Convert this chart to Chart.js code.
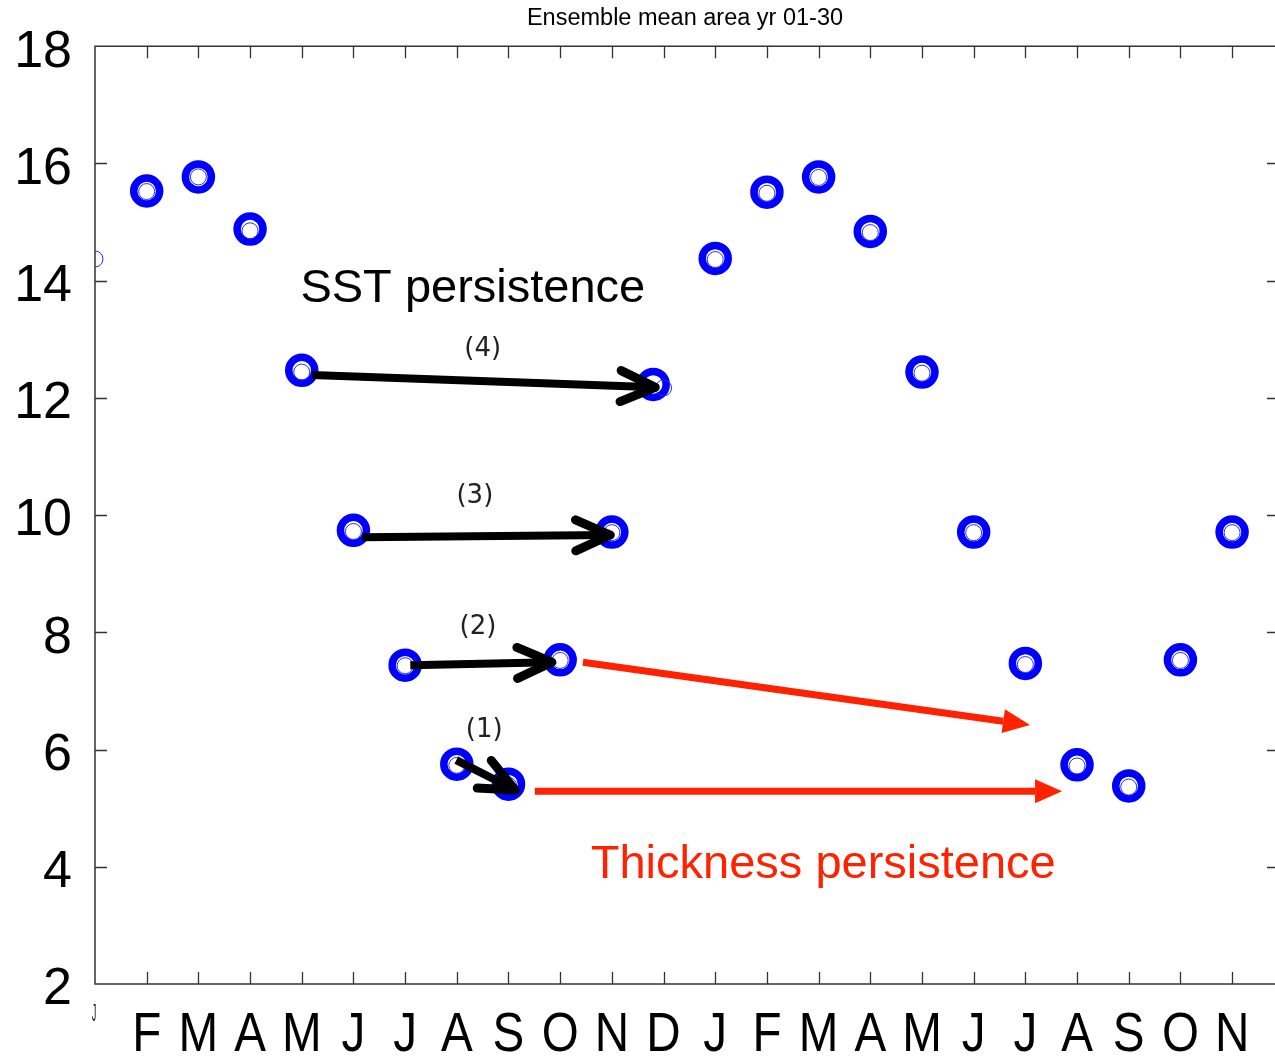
<!DOCTYPE html>
<html>
<head>
<meta charset="utf-8">
<title>Ensemble mean area yr 01-30</title>
<script src="https://cdn.jsdelivr.net/npm/chart.js@4"></script>
<style>
  html, body { margin: 0; padding: 0; background: #fff; }
  #wrap { width: 1275px; height: 1057px; }
</style>
</head>
<body>
<div id="wrap"><canvas id="chart"></canvas></div>
<script>
// ---------------- data ----------------
const months = ['J','F','M','A','M','J','J','A','S','O','N','D','J','F','M','A','M','J','J','A','S','O','N'];

// monthly ensemble mean area (thin circles), one per month
const areaMean = [14.37, 15.52, 15.77, 14.85, 12.44, 9.72, 7.43, 5.73, 5.39, 7.52, 9.70, 12.17,
                  14.36, 15.49, 15.76, 14.82, 12.42, 9.70, 7.45, 5.72, 5.36, 7.52, 9.70];

// highlighted months (thick rings)
const ringMonth = [1, 2, 3, 4, 5, 6, 7, 8, 9, 10, 10.8, 12, 13, 14, 15, 16, 17, 18, 19, 20, 21, 22];
const ringArea  = [15.53, 15.77, 14.88, 12.47, 9.74, 7.44, 5.75, 5.41, 7.53, 9.71, 12.23,
                   14.38, 15.51, 15.77, 14.84, 12.44, 9.71, 7.47, 5.74, 5.38, 7.53, 9.71];

const yTicks = [2, 4, 6, 8, 10, 12, 14, 16, 18];

// persistence arrows, in (month index, area) units
const sstArrows = [
  { from: [4.20, 12.39], to: [10.84, 12.18], tag: '(4)', at: [7.50, 12.83] },
  { from: [5.17,  9.62], to: [ 9.97,  9.66], tag: '(3)', at: [7.35, 10.32] },
  { from: [6.10,  7.44], to: [ 8.84,  7.49], tag: '(2)', at: [7.41,  8.09] },
  { from: [6.99,  5.82], to: [ 8.13,  5.31], tag: '(1)', at: [7.53,  6.33] },
];
const thickArrows = [
  { from: [9.44, 7.49], to: [18.09, 6.42] },
  { from: [8.51, 5.29], to: [18.71, 5.29] },
];
const notes = [
  { text: 'SST persistence',       at: [7.31, 13.85], color: '#000' },
  { text: 'Thickness persistence', at: [14.09, 4.03], color: '#ff2200' },
];

const BLUE = '#0000ff';
const RED = '#ff2200';
const SANS = '"Liberation Sans", Arial, Helvetica, sans-serif';

// ---------------- drawing helpers ----------------
function chevron(ctx, x0, y0, x1, y1) {
  const ang = Math.atan2(y1 - y0, x1 - x0);
  ctx.lineWidth = 8;
  ctx.lineCap = 'butt';
  ctx.beginPath(); ctx.moveTo(x0, y0); ctx.lineTo(x1, y1); ctx.stroke();
  ctx.lineWidth = 9;
  ctx.lineCap = 'round';
  ctx.beginPath();
  for (const s of [-1, 1]) {
    const a = ang + Math.PI + s * 0.42;
    ctx.moveTo(x1, y1);
    ctx.lineTo(x1 + 38 * Math.cos(a), y1 + 38 * Math.sin(a));
  }
  ctx.stroke();
}

function filledArrow(ctx, x0, y0, x1, y1) {
  const ang = Math.atan2(y1 - y0, x1 - x0);
  const len = 27, half = 12;
  const bx = x1 - len * Math.cos(ang), by = y1 - len * Math.sin(ang);
  ctx.lineWidth = 7;
  ctx.lineCap = 'butt';
  ctx.beginPath(); ctx.moveTo(x0, y0); ctx.lineTo(bx, by); ctx.stroke();
  ctx.beginPath();
  ctx.moveTo(x1, y1);
  ctx.lineTo(bx + half * Math.sin(ang), by - half * Math.cos(ang));
  ctx.lineTo(bx - half * Math.sin(ang), by + half * Math.cos(ang));
  ctx.closePath();
  ctx.fill();
}

// frame with inward ticks, month letters, arrows and notes
const overlay = {
  id: 'overlay',
  afterDatasetsDraw(chart) {
    const { ctx, chartArea: a, scales: { x, y } } = chart;
    ctx.save();

    // axes frame (right edge falls off the canvas)
    ctx.strokeStyle = '#333';
    ctx.lineWidth = 1.5;
    ctx.beginPath();
    ctx.moveTo(a.right, a.top); ctx.lineTo(a.left, a.top);
    ctx.lineTo(a.left, a.bottom); ctx.lineTo(a.right, a.bottom);
    ctx.stroke();

    ctx.lineWidth = 1.3;
    ctx.beginPath();
    months.forEach((m, i) => {
      if (i === 0) return;
      const px = Math.round(x.getPixelForValue(i)) + 0.5;
      ctx.moveTo(px, a.top); ctx.lineTo(px, a.top + 12);
      ctx.moveTo(px, a.bottom); ctx.lineTo(px, a.bottom - 12);
    });
    yTicks.slice(1, -1).forEach(v => {
      const py = Math.round(y.getPixelForValue(v)) + 0.5;
      ctx.moveTo(a.left, py); ctx.lineTo(a.left + 12, py);
      ctx.moveTo(a.right, py); ctx.lineTo(a.right - 8, py);
    });
    ctx.stroke();

    // month letters
    ctx.fillStyle = '#000';
    ctx.textAlign = 'center';
    ctx.textBaseline = 'alphabetic';
    months.forEach((m, i) => {
      const px = x.getPixelForValue(i);
      ctx.save();
      if (i === 0) {
        ctx.translate(px - 1, a.bottom + 37);
        ctx.scale(0.35, 1);
        ctx.font = '24px ' + SANS;
      } else {
        ctx.translate(px, a.bottom + 67);
        ctx.scale(0.85, 1);
        ctx.font = '56px ' + SANS;
      }
      ctx.fillText(m, 0, 0);
      ctx.restore();
    });

    // SST persistence arrows
    ctx.strokeStyle = '#000';
    sstArrows.forEach(r => {
      chevron(ctx,
        x.getPixelForValue(r.from[0]), y.getPixelForValue(r.from[1]),
        x.getPixelForValue(r.to[0]), y.getPixelForValue(r.to[1]));
    });
    ctx.fillStyle = '#222';
    ctx.font = '26px "DejaVu Sans", sans-serif';
    ctx.textBaseline = 'middle';
    sstArrows.forEach(r => {
      ctx.fillText(r.tag, x.getPixelForValue(r.at[0]), y.getPixelForValue(r.at[1]));
    });

    // thickness persistence arrows
    ctx.strokeStyle = RED;
    ctx.fillStyle = RED;
    thickArrows.forEach(r => {
      filledArrow(ctx,
        x.getPixelForValue(r.from[0]), y.getPixelForValue(r.from[1]),
        x.getPixelForValue(r.to[0]), y.getPixelForValue(r.to[1]));
    });

    ctx.font = '47px ' + SANS;
    notes.forEach(n => {
      ctx.fillStyle = n.color;
      ctx.fillText(n.text, x.getPixelForValue(n.at[0]), y.getPixelForValue(n.at[1]));
    });

    ctx.restore();
  }
};

// ---------------- chart ----------------
new Chart(document.getElementById('chart'), {
  type: 'scatter',
  data: {
    datasets: [
      {
        label: 'ensemble mean',
        data: areaMean.map((v, i) => ({ x: i, y: v })),
        pointStyle: 'circle',
        pointRadius: 8,
        borderWidth: 1,
        borderColor: '#2a2aff',
        backgroundColor: 'rgba(0,0,0,0)',
        order: 0
      },
      {
        label: 'highlight',
        data: ringMonth.map((m, i) => ({ x: m, y: ringArea[i] })),
        pointStyle: 'circle',
        pointRadius: 13,
        borderWidth: 7.5,
        borderColor: BLUE,
        backgroundColor: 'rgba(0,0,0,0)',
        order: 1
      }
    ]
  },
  options: {
    responsive: true,
    maintainAspectRatio: false,
    animation: false,
    events: [],
    layout: { padding: 0, autoPadding: false },
    plugins: {
      legend: { display: false },
      tooltip: { enabled: false },
      title: {
        display: true,
        fullSize: false,
        text: 'Ensemble mean area yr 01-30',
        color: '#000',
        font: { family: SANS, size: 23.5, weight: 'normal' },
        padding: { top: 4, bottom: 14 }
      }
    },
    scales: {
      x: {
        type: 'linear',
        min: 0,
        max: 22.83,
        grid: { display: false },
        border: { display: false },
        ticks: { display: false },
        afterFit: (s) => { s.height = 73; s.paddingLeft = 0; s.paddingRight = 0; }
      },
      y: {
        min: 2,
        max: 18,
        grid: { display: false, drawTicks: false },
        border: { display: false },
        afterBuildTicks: (s) => { s.ticks = yTicks.map(v => ({ value: v })); },
        ticks: {
          color: '#000',
          padding: 23,
          labelOffset: 6,
          font: { family: SANS, size: 52 }
        },
        afterFit: (s) => { s.width = 95; s.paddingTop = 0; s.paddingBottom = 0; }
      }
    }
  },
  plugins: [overlay]
});
</script>
</body>
</html>
